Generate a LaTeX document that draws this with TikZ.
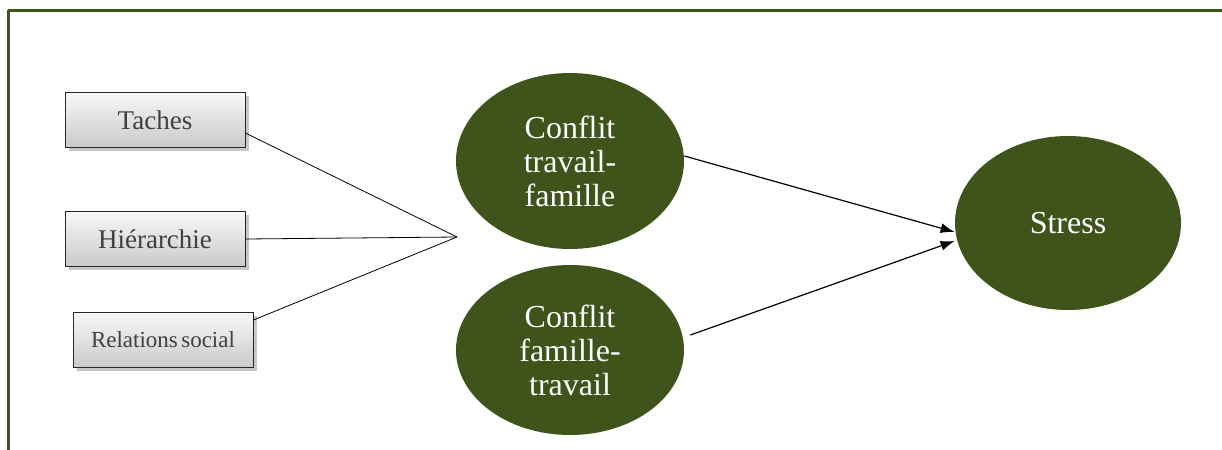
\documentclass[tikz,border=0pt]{standalone}
\usepackage{fontspec}
\setmainfont{Liberation Serif}
\usetikzlibrary{shapes.geometric,shadows,arrows.meta}
\definecolor{darkolive}{RGB}{62,84,27}
\definecolor{boxtext}{RGB}{64,64,64}
\tikzset{
    factor/.style={draw=black!85, thin, top color=gray!6, bottom color=gray!42, drop shadow={shadow xshift=1.8pt, shadow yshift=-1.8pt, opacity=0.45}, minimum width=90pt, minimum height=27.5pt, inner sep=0pt, text=boxtext, font=\fontsize{13.5}{15}\selectfont},
    conflit/.style={ellipse, fill=darkolive, text=white, align=center, inner sep=0pt, minimum width=114pt, minimum height=88pt, font=\fontsize{16}{17}\selectfont}
}
\begin{document}
\begin{tikzpicture}[x=0.5pt, y=-0.5pt]
            \useasboundingbox (0,0) rectangle (1222,450);
            \draw[darkolive, line width=1.5pt] (8,10) -- (1222,10);
            \draw[darkolive, line width=1.5pt] (8,10) -- (8,450);
            \node[factor] (taches) at (155,120) {Taches};
            \node[factor] (hier) at (155,239) {Hiérarchie};
            \node[factor, font=\fontsize{11.5}{13}\selectfont] (rel) at (163,340) {Relations\hspace{0.15em}social};
            \node[conflit] (ctf) at (570,161) {Conflit\\travail-\\famille};
            \node[conflit, minimum height=85pt] (cft) at (570,350) {Conflit\\famille-\\travail};
            \node[conflit, minimum width=113pt, minimum height=87pt] (stress) at (1068,223) {Stress};
            \coordinate (join) at (457,237);
            \draw[thin] ([yshift=-6.5pt]taches.east) -- (join);
            \draw[thin] (hier.east) -- (join);
            \draw[thin] ([yshift=10pt]rel.east) -- (join);
            \draw[semithick, -{Latex[length=7pt, width=5pt]}] ([yshift=2.5pt]ctf.east) -- ([yshift=-4.5pt]stress.west);
            \draw[semithick, -{Latex[length=7pt, width=5pt]}] ([xshift=3pt, yshift=7.5pt]cft.east) -- ([yshift=-9pt]stress.west);
        \end{tikzpicture}
\end{document}
